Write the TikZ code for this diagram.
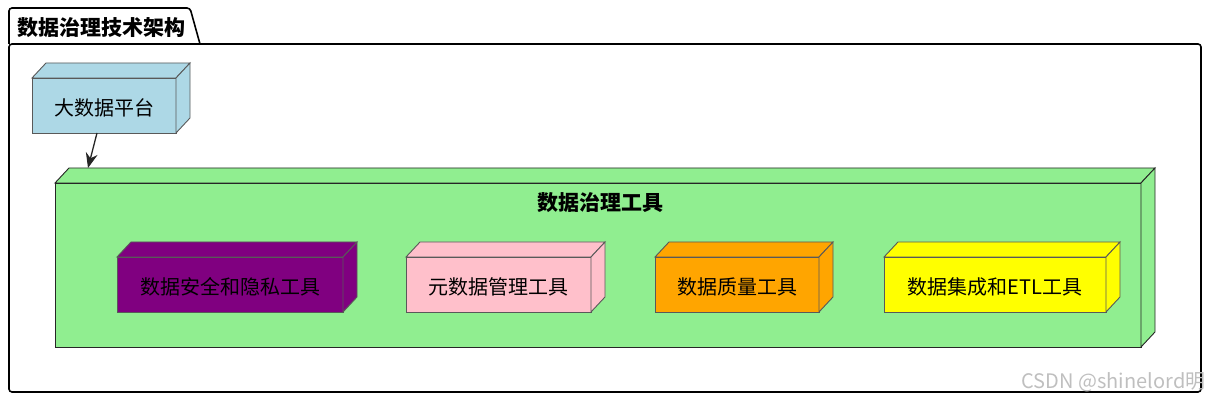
\documentclass[tikz,border=0pt]{standalone}
\usepackage{fontspec}
\setmainfont{Noto Sans CJK SC}
\usetikzlibrary{positioning,arrows.meta}
\definecolor{platformblue}{HTML}{ADD8E6}
\definecolor{toolgreen}{HTML}{90EE90}
\definecolor{secpurple}{HTML}{800080}
\definecolor{metapink}{HTML}{FFC0CB}
\definecolor{qualorange}{HTML}{FFA500}
\definecolor{etlyellow}{HTML}{FFFF00}
\tikzset{
    box/.style={draw=black!65, outer sep=0pt, inner sep=0pt, minimum height=55pt, text height=22pt, text depth=2pt, font=\fontsize{20}{24}\selectfont},
    title/.style={font=\fontsize{21}{25}\selectfont\bfseries}
}
\begin{document}
\begin{tikzpicture}[x=1pt, y=-1pt]
    \useasboundingbox (0,0) rectangle (1211,403);
    \draw[line width=1.6pt, rounded corners=3pt] (9,44) -- (9,8) -- (190,8) -- (200,44);
    \draw[line width=1.6pt, rounded corners=3pt] (9,44) rectangle (1201,392);
    \node[title, anchor=west] (frametitle) at (14,28) {数据治理技术架构};
    \node[box, fill=toolgreen, draw=black!85, minimum width=1086pt, minimum height=164pt] (tools) at (598,265) {};
    \node[title] (toolstitle) at (600,203) {数据治理工具};
    \node[box, fill=platformblue, minimum width=144pt] (platform) at (104,105.5) {大数据平台};
    \node[box, fill=secpurple, minimum width=226pt] (security) at (230,284.5) {数据安全和隐私工具};
    \node[box, fill=metapink, minimum width=185pt] (metadata) at (498.5,284.5) {元数据管理工具};
    \node[box, fill=qualorange, minimum width=164pt] (quality) at (737,284.5) {数据质量工具};
    \node[box, fill=etlyellow, minimum width=222pt] (etl) at (995,284.5) {数据集成和ETL工具};
    \foreach \n/\c/\e in {tools/toolgreen/black!85, platform/platformblue/black!65, security/secpurple/black!65, metadata/metapink/black!65, quality/qualorange/black!65, etl/etlyellow/black!65}{
        \filldraw[fill=\c, draw=\e, line width=0.9pt] (\n.north west) -- ++(14,-15) -- ([shift={(14,-15)}]\n.north east) -- (\n.north east) -- cycle;
        \filldraw[fill=\c, draw=\e, line width=0.9pt] (\n.north east) -- ++(14,-15) -- ([shift={(14,-15)}]\n.south east) -- (\n.south east) -- cycle;
    }
    \draw[-{Stealth[length=15pt, width=12pt, inset=5pt]}, line width=1.3pt, black!85] ([xshift=-7pt]platform.south) -- ([shift={(33,-15)}]tools.north west);
    \node[font=\fontsize{20}{24}\selectfont, text=black!25, anchor=east] (watermark) at (1209,382) {CSDN @shinelord明};
\end{tikzpicture}
\end{document}
